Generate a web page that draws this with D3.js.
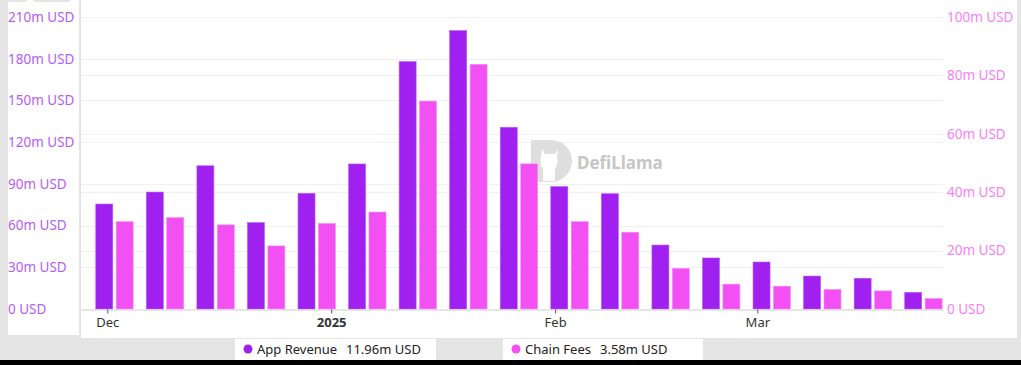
<!DOCTYPE html>
<html>
<head>
<meta charset="utf-8">
<script src="https://cdn.jsdelivr.net/npm/d3@7"></script>
<style>
  html, body { margin: 0; padding: 0; background: #e5e5e5; }
  svg { display: block; }
</style>
</head>
<body>
<div id="chart"></div>
<script>
// weekly buckets (week start)
const weeks = ['2024-12-01', '2024-12-08', '2024-12-15', '2024-12-22', '2024-12-29',
  '2025-01-05', '2025-01-12', '2025-01-19', '2025-01-26', '2025-02-02', '2025-02-09',
  '2025-02-16', '2025-02-23', '2025-03-02', '2025-03-09', '2025-03-16', '2025-03-23'];
// millions of USD
const appRevenue = [75.5, 84.1, 103, 62.1, 83.2, 104.3, 177.9, 200.2, 130.7, 88, 82.9, 46, 36.7, 33.8, 23.7, 22.1, 11.96];
const chainFees = [29.9, 31.3, 28.8, 21.6, 29.3, 33.2, 71.2, 83.8, 49.7, 29.9, 26.3, 13.9, 8.5, 7.8, 6.7, 6.2, 3.58];
const leftTicks = [0, 30, 60, 90, 120, 150, 180, 210];
const rightTicks = [0, 20, 40, 60, 80, 100];
const xTicks = ['2024-12-01', '2025-01-01', '2025-02-01', '2025-03-01'];
const xTickLabels = ['Dec', '2025', 'Feb', 'Mar'];
const legendItems = [
  { name: 'App Revenue', value: '11.96m USD' },
  { name: 'Chain Fees', value: '3.58m USD' }
];

const width = 1021;
const height = 365;
const plot = { left: 81, right: 943, top: 17, bottom: 309 };
const purple = '#a020f0';
const pink = '#f250f2';
const font = '"Noto Sans", sans-serif';

const parse = d3.utcParse('%Y-%m-%d');

const svg = d3.select('#chart')
  .append('svg')
  .attr('width', width)
  .attr('height', height);

// panels
svg.append('rect').attr('x', 8).attr('y', 0).attr('width', 71).attr('height', 335).attr('fill', '#fff');
svg.append('rect').attr('x', 81).attr('y', 0).attr('width', 936).attr('height', 338).attr('fill', '#fff');
svg.append('rect').attr('x', 8).attr('y', 0).attr('width', 19).attr('height', 2).attr('fill', '#e5e5e5');
svg.append('rect').attr('x', 34).attr('y', 0).attr('width', 36).attr('height', 2).attr('fill', '#e5e5e5');
svg.append('rect').attr('x', 0).attr('y', 360).attr('width', width).attr('height', 5).attr('fill', '#000');

const x = d3.scaleUtc()
  .domain([Date.UTC(2024, 10, 27, 8, 40), Date.UTC(2025, 2, 26, 17, 0)])
  .range([plot.left, plot.right]);

const yLeft = d3.scaleLinear()
  .domain([0, 210])
  .range([plot.bottom, plot.top]);

const yRight = d3.scaleLinear()
  .domain([0, 100])
  .range([plot.bottom, plot.top]);

const inner = d3.scaleBand()
  .domain(['app', 'chain'])
  .range([-11.5, 25.9])
  .paddingInner(0.167);

// gridlines
svg.append('g')
  .selectAll('line')
  .data(leftTicks.slice(1))
  .join('line')
    .attr('x1', plot.left).attr('x2', plot.right)
    .attr('y1', d => Math.round(yLeft(d)) + 0.5)
    .attr('y2', d => Math.round(yLeft(d)) + 0.5)
    .attr('stroke', '#f0f0f0');

svg.append('g')
  .selectAll('line')
  .data(rightTicks.slice(1))
  .join('line')
    .attr('x1', plot.left).attr('x2', plot.right)
    .attr('y1', d => Math.round(yRight(d)) + 0.5)
    .attr('y2', d => Math.round(yRight(d)) + 0.5)
    .attr('stroke', '#f0f0f0');

// watermark
const wm = svg.append('g').attr('transform', 'translate(551,161)');
wm.append('path')
  .attr('d', 'M-20,-21 H0 A21,21 0 0 1 0,21 H-20 Z')
  .attr('fill', '#dedede');
wm.append('path')
  .attr('d', 'M-9,-12 l3,5 h10 l3,-5 l-1,8 q2,6 -2,12 v12 h-12 v-12 q-4,-6 -2,-12 z')
  .attr('fill', '#fff');
svg.append('text')
  .attr('x', 577).attr('y', 169)
  .attr('font-family', font).attr('font-size', 17).attr('font-weight', 'bold')
  .attr('fill', '#c6c6c6')
  .text('DefiLlama');

// bars
const groups = svg.append('g')
  .selectAll('g')
  .data(weeks.map((w, i) => ({ date: parse(w), app: appRevenue[i], chain: chainFees[i] })))
  .join('g')
    .attr('transform', d => `translate(${x(d.date)},0)`);

groups.append('rect')
  .attr('x', inner('app'))
  .attr('y', d => yLeft(d.app))
  .attr('width', inner.bandwidth())
  .attr('height', d => yLeft(0) - yLeft(d.app))
  .attr('fill', purple)
  .attr('stroke', '#b659f5')
  .attr('stroke-width', 0.6);

groups.append('rect')
  .attr('x', inner('chain'))
  .attr('y', d => yRight(d.chain))
  .attr('width', inner.bandwidth())
  .attr('height', d => yRight(0) - yRight(d.chain))
  .attr('fill', pink)
  .attr('stroke', '#f78af7')
  .attr('stroke-width', 0.6);

// x axis
const xAxis = svg.append('g')
  .attr('transform', `translate(0,${plot.bottom + 0.5})`)
  .call(d3.axisBottom(x)
    .tickValues(xTicks.map(parse))
    .tickFormat((d, i) => xTickLabels[i])
    .tickSize(4)
    .tickPadding(4)
    .tickSizeOuter(0));
xAxis.select('.domain').attr('stroke', '#cccccc');
xAxis.selectAll('.tick line').attr('stroke', '#555');
xAxis.selectAll('text')
  .attr('font-family', font)
  .attr('font-size', 13)
  .attr('fill', '#333')
  .attr('font-weight', (d, i) => xTickLabels[i] === '2025' ? 'bold' : 'normal');

// left axis labels
const leftAxis = svg.append('g')
  .attr('transform', 'translate(8,0)')
  .call(d3.axisRight(yLeft).tickValues(leftTicks).tickSize(0).tickPadding(0)
    .tickFormat(d => d === 0 ? '0 USD' : `${d}m USD`));
leftAxis.select('.domain').remove();
leftAxis.selectAll('text')
  .attr('font-family', font).attr('font-size', 13.5).attr('fill', '#b55cf3');

// right axis labels
const rightAxis = svg.append('g')
  .attr('transform', `translate(${plot.right + 4},0)`)
  .call(d3.axisRight(yRight).tickValues(rightTicks).tickSize(0).tickPadding(0)
    .tickFormat(d => d === 0 ? '0 USD' : `${d}m USD`));
rightAxis.select('.domain').remove();
rightAxis.selectAll('text')
  .attr('font-family', font).attr('font-size', 13.5).attr('fill', '#f77ff5');

// left frame line
svg.append('line')
  .attr('x1', 80.5).attr('x2', 80.5).attr('y1', 0).attr('y2', 338)
  .attr('stroke', '#e2e2e2');

// legend
const legendBoxes = [{ x: 235, w: 201, valueX: 111 }, { x: 503, w: 200, valueX: 97 }];
const legend = svg.append('g')
  .selectAll('g')
  .data(legendItems)
  .join('g')
    .attr('transform', (d, i) => `translate(${legendBoxes[i].x},339)`);

legend.append('rect')
  .attr('width', (d, i) => legendBoxes[i].w)
  .attr('height', 21)
  .attr('fill', '#fff');
legend.append('circle')
  .attr('cx', 13).attr('cy', 10)
  .attr('r', 4.5)
  .attr('fill', (d, i) => i === 0 ? purple : pink);
legend.append('text')
  .attr('x', 22).attr('y', 15)
  .attr('font-family', font).attr('font-size', 13).attr('fill', '#222')
  .text(d => d.name);
legend.append('text')
  .attr('x', (d, i) => legendBoxes[i].valueX).attr('y', 15)
  .attr('font-family', font).attr('font-size', 13).attr('fill', '#222')
  .text(d => d.value);
</script>
</body>
</html>
